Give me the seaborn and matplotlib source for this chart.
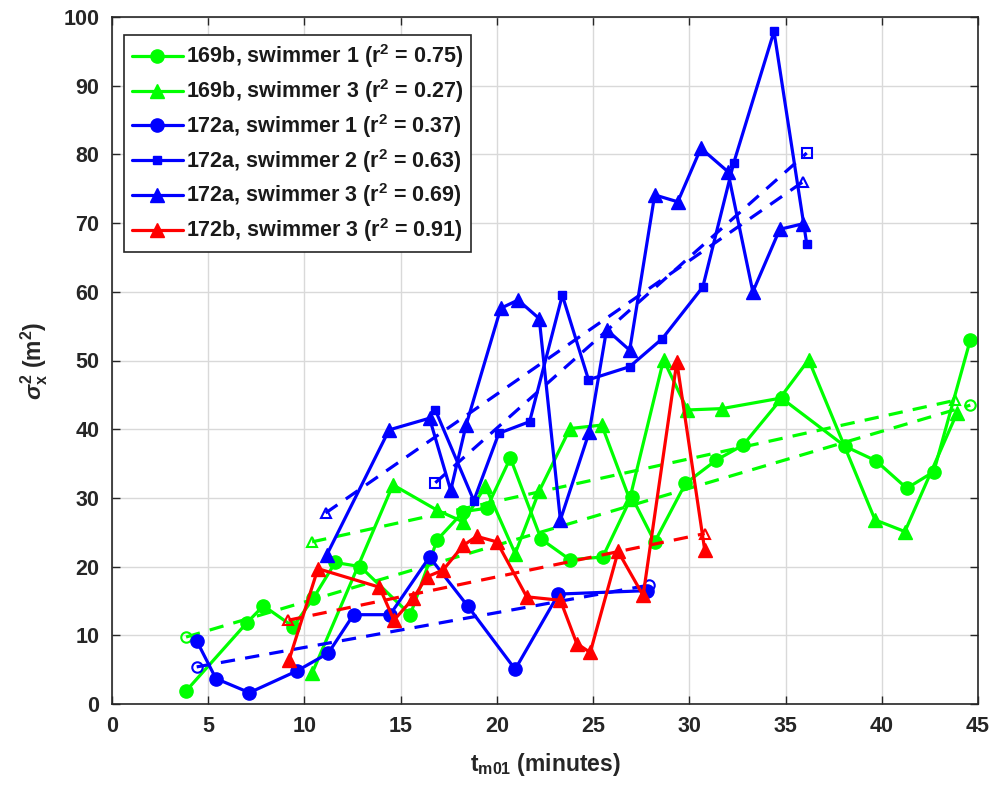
import matplotlib
matplotlib.use("Agg")
import matplotlib.pyplot as plt
import seaborn as sns
import numpy as np
import pandas as pd

sns.set_theme(style="white")
plt.rcParams['font.family'] = ['Liberation Sans', 'DejaVu Sans']
plt.rcParams['font.weight'] = 'bold'
plt.rcParams['mathtext.fontset'] = 'custom'
plt.rcParams['mathtext.rm'] = 'Liberation Sans:bold'
plt.rcParams['mathtext.it'] = 'Liberation Sans:italic'
plt.rcParams['mathtext.bf'] = 'Liberation Sans:bold'

# ---- data ----
s169b_1_x = [3.85, 7.0, 7.87, 9.42, 10.46, 11.6, 12.9, 15.5, 16.9, 18.26, 19.47, 20.7, 22.3, 23.8, 25.5,
             27.0, 28.2, 29.8, 31.4, 32.8, 34.8, 38.1, 39.7, 41.3, 42.7, 44.6]
s169b_1_y = [1.9, 11.8, 14.3, 11.25, 15.4, 20.6, 20.0, 13.0, 23.9, 28.0, 28.5, 35.8, 24.0, 21.0, 21.4,
             30.2, 23.6, 32.1, 35.5, 37.7, 44.5, 37.5, 35.4, 31.4, 33.8, 53.0]

s169b_3_x = [10.4, 14.6, 16.9, 18.26, 19.4, 20.95, 22.2, 23.8, 25.45, 26.9, 28.66, 29.9, 31.7, 34.7,
             36.2, 39.65, 41.2, 43.9]
s169b_3_y = [4.5, 31.9, 28.2, 26.5, 31.7, 21.9, 31.0, 40.1, 40.6, 29.8, 50.1, 42.8, 43.0, 44.5,
             50.1, 26.8, 25.1, 42.3]

s172a_1_x = [4.4, 5.4, 7.14, 9.6, 11.24, 12.55, 14.45, 16.5, 18.5, 20.95, 23.2, 27.8]
s172a_1_y = [9.2, 3.7, 1.65, 4.8, 7.4, 13.0, 13.0, 21.4, 14.2, 5.05, 16.0, 16.5]

s172a_2_x = [16.8, 18.8, 20.1, 21.7, 23.4, 24.76, 26.9, 28.6, 30.7, 32.3, 34.4, 36.1]
s172a_2_y = [42.8, 29.6, 39.4, 41.1, 59.5, 47.2, 49.1, 53.2, 60.7, 78.7, 97.9, 67.0]

s172a_3_x = [11.16, 14.4, 16.5, 17.6, 18.4, 20.2, 21.1, 22.2, 23.3, 24.8, 25.7, 26.9, 28.2, 29.4,
             30.6, 32.0, 33.3, 34.7, 35.9]
s172a_3_y = [21.7, 39.9, 41.6, 31.1, 40.6, 57.6, 58.8, 56.1, 26.8, 39.6, 54.5, 51.5, 74.1, 73.1,
             80.9, 77.5, 60.0, 69.1, 69.9]

s172b_3_x = [9.2, 10.7, 13.9, 14.65, 15.66, 16.35, 17.2, 18.26, 18.95, 20.0, 21.55, 23.3, 24.15,
             24.85, 26.3, 27.6, 29.35, 30.8]
s172b_3_y = [6.4, 19.7, 17.0, 12.2, 15.4, 18.5, 19.5, 23.1, 24.4, 23.6, 15.6, 15.1, 8.8,
             7.5, 22.2, 15.8, 49.8, 22.4]

# linear-fit end points
fit_169b_1 = ([3.85, 44.6], [9.75, 43.5])
fit_169b_3 = ([10.4, 43.8], [23.6, 44.2])
fit_172a_1 = ([4.4, 27.9], [5.4, 17.3])
fit_172a_2 = ([16.8, 36.1], [32.2, 80.2])
fit_172a_3 = ([11.1, 35.9], [27.8, 76.0])
fit_172b_3 = ([9.17, 30.8], [12.2, 24.8])

labels = [r'169b, swimmer 1 (r$^{2}$ = 0.75)',
          r'169b, swimmer 3 (r$^{2}$ = 0.27)',
          r'172a, swimmer 1 (r$^{2}$ = 0.37)',
          r'172a, swimmer 2 (r$^{2}$ = 0.63)',
          r'172a, swimmer 3 (r$^{2}$ = 0.69)',
          r'172b, swimmer 3 (r$^{2}$ = 0.91)']

x_ticks = [0, 5, 10, 15, 20, 25, 30, 35, 40, 45]
y_ticks = [0, 10, 20, 30, 40, 50, 60, 70, 80, 90, 100]

series = [
    (s169b_1_x, s169b_1_y, fit_169b_1, '#00ff00', 'o', 9.5),
    (s169b_3_x, s169b_3_y, fit_169b_3, '#00ff00', '^', 10.5),
    (s172a_1_x, s172a_1_y, fit_172a_1, '#0000ff', 'o', 9.5),
    (s172a_2_x, s172a_2_y, fit_172a_2, '#0000ff', 's', 6),
    (s172a_3_x, s172a_3_y, fit_172a_3, '#0000ff', '^', 10.5),
    (s172b_3_x, s172b_3_y, fit_172b_3, '#ff0000', '^', 10.5),
]

W, H = 992, 785
fig = plt.figure(figsize=(W / 100, H / 100), dpi=100)
ax = fig.add_axes([112 / W, (H - 704) / H, (978 - 112) / W, (704 - 17) / H])

handles = []
for (xs, ys, fit, col, mk, ms), lab in zip(series, labels):
    df = pd.DataFrame({'t': xs, 'v': ys})
    sns.lineplot(data=df, x='t', y='v', ax=ax, sort=False, estimator=None,
                 color=col, marker=mk, markersize=ms, linewidth=2.3,
                 markeredgecolor=col, markerfacecolor=col, markeredgewidth=1)
    handles.append(ax.lines[-1])
    fdf = pd.DataFrame({'t': fit[0], 'v': fit[1]})
    sns.lineplot(data=fdf, x='t', y='v', ax=ax, sort=False, estimator=None,
                 color=col, linestyle=(0, (4.5, 3.2)), linewidth=2.3,
                 marker=mk, markersize=7.5 if mk != 's' else 6.5, markerfacecolor='none',
                 markeredgecolor=col, markeredgewidth=1.5)

ax.set_xlim(0, 45)
ax.set_ylim(0, 100)
ax.set_xticks(x_ticks)
ax.set_yticks(y_ticks)
ax.set_xticklabels([str(t) for t in x_ticks])
ax.set_yticklabels([str(t) for t in y_ticks])
ax.grid(True, color='#d9d9d9', linewidth=1)
ax.set_axisbelow(True)
for sp in ax.spines.values():
    sp.set_color('#262626')
    sp.set_linewidth(1.2)
    sp.set_visible(True)
ax.tick_params(direction='in', length=6, width=1, colors='#262626', labelsize=15.5,
               top=True, right=True, bottom=True, left=True, pad=9)
for lbl in ax.get_xticklabels() + ax.get_yticklabels():
    lbl.set_fontweight('bold')
    lbl.set_color('#262626')

ax.set_xlabel(r't$_{\mathrm{m01}}$ (minutes)', fontsize=16.5, fontweight='bold', color='#262626', labelpad=10)
ax.set_ylabel(r'$\sigma^{2}_{\mathrm{x}}$ (m$^{2}$)', fontsize=16.5, fontweight='bold', color='#262626', labelpad=10)

leg = ax.legend(handles, labels, loc='upper left', bbox_to_anchor=(0.0139, 0.974),
                borderaxespad=0, fontsize=15.5, frameon=True, fancybox=False,
                handlelength=2.4, handletextpad=0.15, labelspacing=0.32,
                borderpad=0.35, numpoints=1)
leg.get_frame().set_edgecolor('#262626')
leg.get_frame().set_linewidth(1.2)
leg.get_frame().set_alpha(1)
for t in leg.get_texts():
    t.set_fontweight('bold')
    t.set_color('#1a1a1a')

fig.savefig('out.png', dpi=100)
